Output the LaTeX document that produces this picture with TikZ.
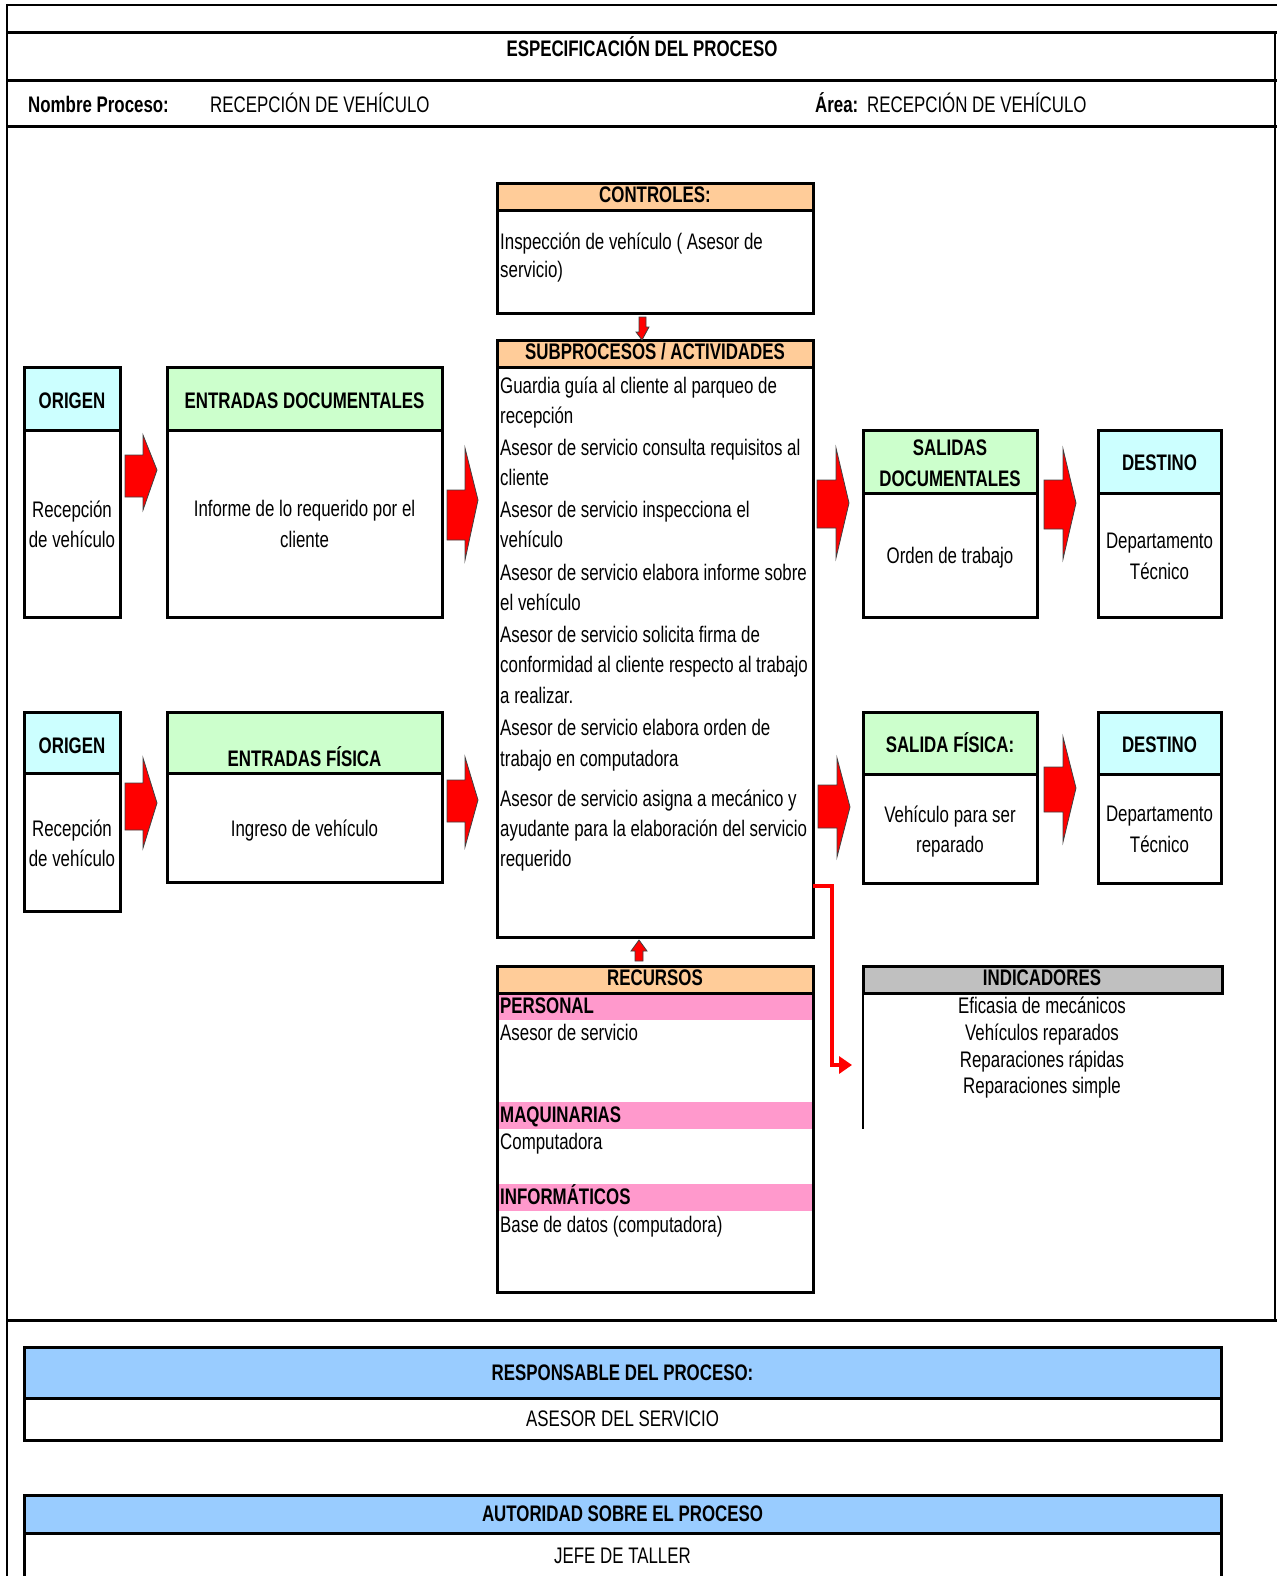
\documentclass[tikz,border=0pt]{standalone}
\usepackage{fontspec}
\setmainfont{Liberation Sans}[FakeStretch=0.75]
\usetikzlibrary{arrows.meta}
\definecolor{hOrange}{HTML}{FFCC99}
\definecolor{hGreen}{HTML}{CCFFCC}
\definecolor{hCyan}{HTML}{CCFFFF}
\definecolor{hPink}{HTML}{FF99CC}
\definecolor{hGray}{HTML}{C0C0C0}
\definecolor{hBlue}{HTML}{99CCFF}
\newcommand\fs{\fontsize{22.5}{27}\selectfont}
\newcommand\fb{\fontsize{22.5}{27}\selectfont\bfseries}
% name, x1, y1, x2, y2, style
\newcommand\cellbox[6]{\node[#6, anchor=north west, inner sep=0pt, outer sep=0pt,
  minimum width={(#4-#2)*1pt}, minimum height={(#5-#3)*1pt}] (#1) at (#2,#3) {};}
% right block arrow: x0, xh, xt, sy1, sy2, hy1, hy2, ty
\newcommand\rarrow[8]{\filldraw[barrow] (#1,#4) -- (#2,#4) -- (#2,#6) -- (#3,#8) -- (#2,#7) -- (#2,#5) -- (#1,#5) -- cycle;}
\begin{document}
\begin{tikzpicture}[x=1pt,y=-1pt,
  bx/.style={draw, line width=3pt},
  t/.style={inner sep=0pt, anchor=base, font=\fs},
  tl/.style={t, anchor=base west},
  tb/.style={t, font=\fb},
  tbl/.style={tb, anchor=base west},
  barrow/.style={fill=red, draw=black!75, line width=0.8pt, line join=miter},
  link/.style={draw=red, line width=3.5pt, -{Triangle[length=13pt,width=17pt]}}]
\useasboundingbox (0,0) rectangle (1277,1576);
\clip (0,0) rectangle (1277,1576);

% outer frame
\draw[line width=2pt] (7,5) -- (1277,5);
\draw[line width=2pt] (7,4) -- (7,1576);
\draw[line width=3pt] (7,33) -- (1277,33) (7,81) -- (1277,81) (7,127) -- (1277,127) (7,1320) -- (1277,1320);
\draw[line width=2pt] (1275,33) -- (1275,1320);
\node[tb] (title) at (642,57) {ESPECIFICACIÓN DEL PROCESO};
\node[tbl] (nplab) at (28,113) {Nombre Proceso:};
\node[tl] (npval) at (210,113) {RECEPCIÓN DE VEHÍCULO};
\node[tbl] (arlab) at (815,113) {Área:};
\node[tl] (arval) at (867,113) {RECEPCIÓN DE VEHÍCULO};

% CONTROLES
\cellbox{ch}{497}{183}{813}{210}{bx, fill=hOrange}
\cellbox{cb}{497}{210}{813}{313}{bx}
\node[tb] (cht) at (655,202) {CONTROLES:};
\node[tl] (cb1) at (500,249) {Inspección de vehículo ( Asesor de};
\node[tl] (cb2) at (500,277) {servicio)};

% SUBPROCESOS
\cellbox{sh}{497}{340}{813}{367}{bx, fill=hOrange}
\cellbox{sb}{497}{367}{813}{937}{bx}
\node[tb] (sht) at (655,359) {SUBPROCESOS / ACTIVIDADES};
\foreach \yy/\txt [count=\i] in {
 393/Guardia guía al cliente al parqueo de,
 423/recepción,
 455/Asesor de servicio consulta requisitos al,
 485/cliente,
 517/Asesor de servicio inspecciona el,
 547/vehículo,
 580/Asesor de servicio elabora informe sobre,
 610/el vehículo,
 642/Asesor de servicio solicita firma de,
 672/conformidad al cliente respecto al trabajo,
 703/a realizar.,
 735/Asesor de servicio elabora orden de,
 766/trabajo en computadora,
 806/Asesor de servicio asigna a mecánico y,
 836/ayudante para la elaboración del servicio,
 866/requerido}
 {\node[tl] (sl\i) at (500,\yy) {\txt};}

% small arrows controls -> sub, recursos -> sub
\filldraw[barrow] ([xshift=-16pt]cb.south |- 0,317) coordinate (ca)
  -- ++(7,0) -- ++(0,10) -- ++(3,0) -- (sh.north -| 642,0) -- ++(-6,-8) -- ++(3,0) -- ++(0,-10) -- cycle;
\filldraw[barrow] (635,961) -- (643,961) -- (643,951) -- (647,951) -- (639,940) -- (631,951) -- (635,951) -- cycle;

% RECURSOS
\cellbox{rh}{497}{966}{813}{993}{bx, fill=hOrange}
\cellbox{pb1}{498.5}{994}{811.5}{1020}{fill=hPink}
\cellbox{pb2}{498.5}{1102}{811.5}{1129}{fill=hPink}
\cellbox{pb3}{498.5}{1184}{811.5}{1211}{fill=hPink}
\cellbox{rb}{497}{993}{813}{1292}{bx}
\node[tb] (rht) at (655,985) {RECURSOS};
\node[tbl] (r1) at (500,1013) {PERSONAL};
\node[tl] (r2) at (500,1040) {Asesor de servicio};
\node[tbl] (r3) at (500,1122) {MAQUINARIAS};
\node[tl] (r4) at (500,1149) {Computadora};
\node[tbl] (r5) at (500,1204) {INFORMÁTICOS};
\node[tl] (r6) at (500,1232) {Base de datos (computadora)};

% Row 1
\cellbox{o1h}{24}{367}{120}{430}{bx, fill=hCyan}
\cellbox{o1b}{24}{430}{120}{617}{bx}
\node[tb] (o1t) at (72,408) {ORIGEN};
\node[t] (o1a) at (72,517) {Recepción};
\node[t] (o1c) at (72,547) {de vehículo};

\cellbox{e1h}{167}{367}{442}{430}{bx, fill=hGreen}
\cellbox{e1b}{167}{430}{442}{617}{bx}
\node[tb] (e1t) at (304.5,408) {ENTRADAS DOCUMENTALES};
\node[t] (e1a) at (304.5,516) {Informe de lo requerido por el};
\node[t] (e1c) at (304.5,547) {cliente};

\cellbox{s1h}{863}{430}{1037}{493}{bx, fill=hGreen}
\cellbox{s1b}{863}{493}{1037}{617}{bx}
\node[tb] (s1t) at (950,455) {SALIDAS};
\node[tb] (s1u) at (950,486) {DOCUMENTALES};
\node[t] (s1a) at (950,563) {Orden de trabajo};

\cellbox{d1h}{1098}{430}{1221}{493}{bx, fill=hCyan}
\cellbox{d1b}{1098}{493}{1221}{617}{bx}
\node[tb] (d1t) at (1159.5,470) {DESTINO};
\node[t] (d1a) at (1159.5,548) {Departamento};
\node[t] (d1c) at (1159.5,579) {Técnico};

\rarrow{125}{143}{157}{455}{497}{435}{510}{470}
\rarrow{447}{465}{478}{490}{540}{448}{560}{500}
\rarrow{817}{836}{849}{480}{528}{448}{558}{503}
\rarrow{1044}{1063}{1076}{480}{529}{449}{559}{503}

% Row 2
\cellbox{o2h}{24}{712}{120}{773}{bx, fill=hCyan}
\cellbox{o2b}{24}{773}{120}{911}{bx}
\node[tb] (o2t) at (72,753) {ORIGEN};
\node[t] (o2a) at (72,836) {Recepción};
\node[t] (o2c) at (72,866) {de vehículo};

\cellbox{e2h}{167}{712}{442}{773}{bx, fill=hGreen}
\cellbox{e2b}{167}{773}{442}{882}{bx}
\node[tb] (e2t) at (304.5,766) {ENTRADAS FÍSICA};
\node[t] (e2a) at (304.5,836) {Ingreso de vehículo};

\cellbox{s2h}{863}{712}{1037}{774}{bx, fill=hGreen}
\cellbox{s2b}{863}{774}{1037}{883}{bx}
\node[tb] (s2t) at (950,752) {SALIDA FÍSICA:};
\node[t] (s2a) at (950,822) {Vehículo para ser};
\node[t] (s2c) at (950,852) {reparado};

\cellbox{d2h}{1098}{712}{1221}{774}{bx, fill=hCyan}
\cellbox{d2b}{1098}{774}{1221}{883}{bx}
\node[tb] (d2t) at (1159.5,752) {DESTINO};
\node[t] (d2a) at (1159.5,821) {Departamento};
\node[t] (d2c) at (1159.5,852) {Técnico};

\rarrow{125}{143}{157}{783}{830}{758}{848}{803}
\rarrow{447}{465}{478}{780}{822}{757}{847}{800}
\rarrow{818}{837}{850}{785}{828}{758}{857}{807}
\rarrow{1044}{1063}{1076}{767}{812}{737}{842}{788}

% INDICADORES
\cellbox{ih}{863}{966}{1222}{993}{bx, fill=hGray}
\draw[line width=2pt] (ih.south west) -- ++(0,136) coordinate (iend);
\node[tb] (iht) at (1042,985) {INDICADORES};
\node[t] (i1) at (1042,1013) {Eficasia de mecánicos};
\node[t] (i2) at (1042,1040) {Vehículos reparados};
\node[t] (i3) at (1042,1067) {Reparaciones rápidas};
\node[t] (i4) at (1042,1093) {Reparaciones simple};
\coordinate (itip) at (852,1065);
\draw[link] (sb.east |- 0,886) -- (832,886) -- (832,1065) -- (itip);

% Bottom boxes
\cellbox{resh}{24}{1347}{1221}{1398}{bx, fill=hBlue}
\cellbox{resb}{24}{1398}{1221}{1440}{bx}
\node[tb] (rest) at (622.5,1380) {RESPONSABLE DEL PROCESO:};
\node[t] (resv) at (622.5,1426) {ASESOR DEL SERVICIO};
\cellbox{auth}{24}{1495}{1221}{1533}{bx, fill=hBlue}
\cellbox{autb}{24}{1533}{1221}{1600}{bx}
\node[tb] (autt) at (622.5,1521) {AUTORIDAD SOBRE EL PROCESO};
\node[t] (autv) at (622.5,1563) {JEFE DE TALLER};
\end{tikzpicture}
\end{document}
